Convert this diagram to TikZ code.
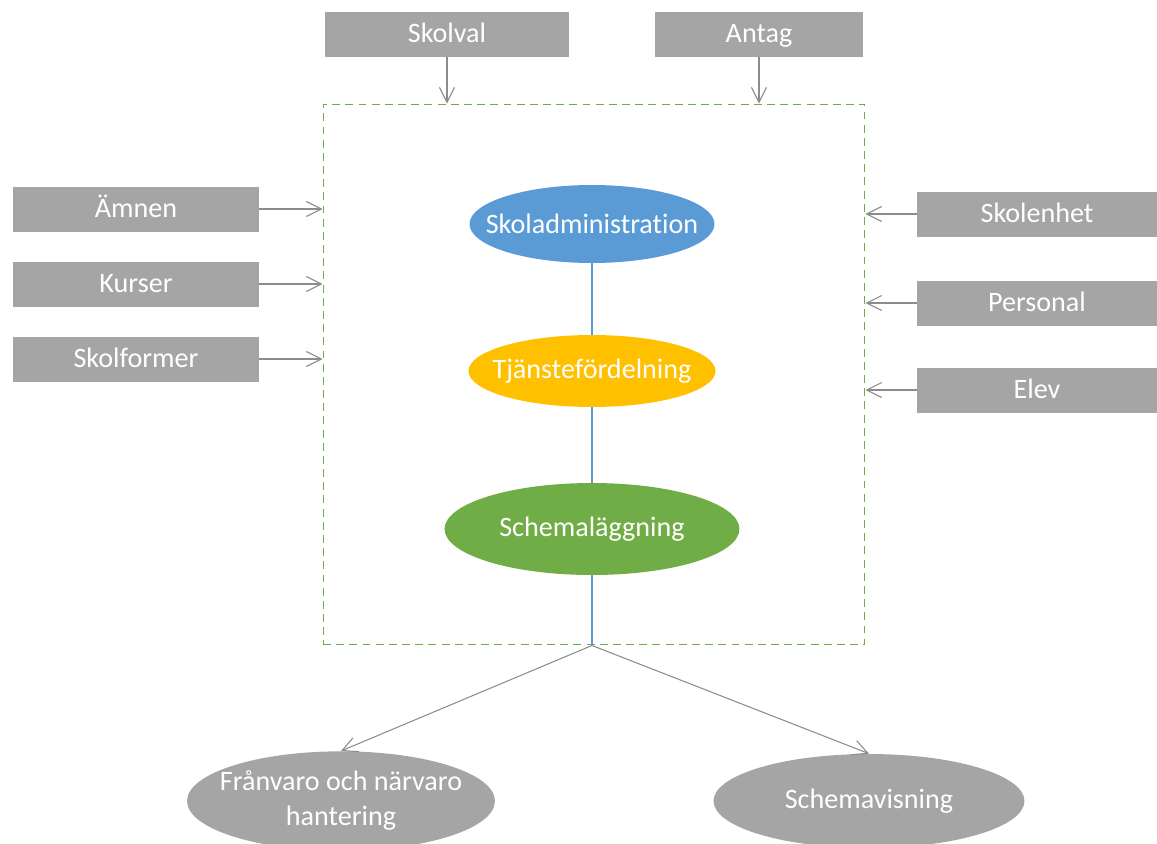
\documentclass[tikz,border=0pt]{standalone}
\usepackage{fontspec}
\setmainfont{Carlito}[Ligatures=NoCommon]
\usetikzlibrary{shapes.geometric, arrows.meta}
\definecolor{boxgray}{HTML}{A5A5A5}
\definecolor{linegray}{HTML}{8C8C8C}
\definecolor{adminblue}{HTML}{5B9BD5}
\definecolor{planorange}{HTML}{FFC000}
\definecolor{schemagreen}{HTML}{70AD47}
\newcommand{\zw}[1]{\makebox[0pt]{#1}}
\tikzset{
    inbox/.style={draw=none, rectangle, fill=boxgray, text=white, minimum width=4.92cm, minimum height=0.9cm, text height=12pt, text depth=2pt, font=\fontsize{16}{20}\selectfont},
    phase/.style={ellipse, inner sep=0pt, text=white, font=\fontsize{16}{20}\selectfont},
    outcome/.style={phase, fill=boxgray, minimum width=6.16cm, minimum height=1.88cm},
    arrow/.style={draw=linegray, line width=0.6pt, -{Straight Barb[length=3mm, width=3mm]}},
    link/.style={draw=adminblue, line width=0.6pt}
}

\begin{document}
\begin{tikzpicture}[x=0.02cm, y=-0.02cm]
\useasboundingbox (0,0) rectangle (1157,843);
\node[draw=schemagreen, dashed, dash pattern=on 4.5pt off 3pt, line width=0.6pt, minimum width=10.84cm, minimum height=10.82cm] (frame) at (594,374.5) {};
\node[inbox, minimum width=4.9cm] (skolval) at (447,34) {Skolval};
\node[inbox, minimum width=4.16cm] (antag) at (759,34) {Antag};
\node[inbox] (amnen) at (136,209) {Ämnen};
\node[inbox] (kurser) at (136,284) {Kurser};
\node[inbox] (skolformer) at (136,359) {Skolformer};
\node[inbox, minimum width=4.8cm] (skolenhet) at (1037,214) {Skolenhet};
\node[inbox, minimum width=4.8cm] (personal) at (1037,303) {Personal};
\node[inbox, minimum width=4.8cm] (elev) at (1037,390) {Elev};
\node[phase, fill=adminblue, minimum width=4.9cm, minimum height=1.56cm] (admin) at (592,224) {\zw{Skoladministration}};
\node[phase, fill=planorange, minimum width=4.94cm, minimum height=1.44cm] (tjanst) at (592,371) {\zw{Tjänstefördelning}};
\node[phase, fill=schemagreen, minimum width=5.9cm, minimum height=1.84cm] (schema) at (592,529) {\zw{Schemaläggning}};
\node[outcome] (franvaro) at (341,801) {\zw{\begin{tabular}{@{}c@{}}Frånvaro och närvaro\\hantering\end{tabular}}};
\node[outcome, minimum width=6.22cm] (visning) at (869,801) {\zw{Schemavisning}};
\coordinate (split) at (schema.south |- frame.south);
\draw[arrow] (skolval) -- (skolval |- frame.north);
\draw[arrow] (antag) -- (antag |- frame.north);
\draw[arrow] (amnen) -- (amnen -| frame.west);
\draw[arrow] (kurser) -- (kurser -| frame.west);
\draw[arrow] (skolformer) -- (skolformer -| frame.west);
\draw[arrow] (skolenhet) -- (skolenhet -| frame.east);
\draw[arrow] (personal) -- (personal -| frame.east);
\draw[arrow] (elev) -- (elev -| frame.east);
\draw[link] (admin) -- (tjanst);
\draw[link] (tjanst) -- (schema);
\draw[link] (schema) -- (split);
\draw[arrow] (split) -- (franvaro.north);
\draw[arrow] (split) -- (visning.north);
\end{tikzpicture}
\end{document}
